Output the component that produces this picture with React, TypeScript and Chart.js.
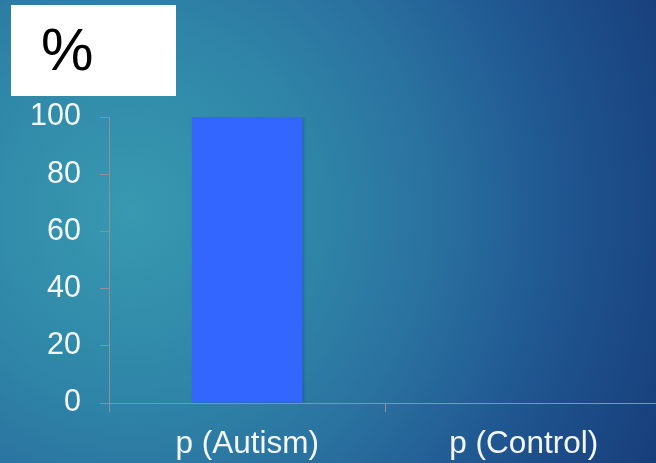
import React, { useEffect, useRef } from "react";
import { Chart, registerables } from "chart.js";

Chart.register(...registerables);

const categories: string[] = ["p (Autism)", "p (Control)"];
const percentValues: number[] = [100, 0];
const yTicks: number[] = [0, 20, 40, 60, 80, 100];
const unitLabel = "%";

const FONT = "'Liberation Sans', Arial, sans-serif";
const AXIS_COLOR = "rgba(140,146,152,1)";

const shadowPlugin = {
  id: "barShadow",
  beforeDatasetsDraw(chart: any) {
    const ctx = chart.ctx;
    ctx.save();
    ctx.shadowColor = "rgba(0,0,0,0.25)";
    ctx.shadowBlur = 3;
    ctx.shadowOffsetX = 1.5;
    ctx.shadowOffsetY = 0;
  },
  afterDatasetsDraw(chart: any) {
    chart.ctx.restore();
  },
};

export default function App() {
  const ref = useRef<HTMLCanvasElement | null>(null);

  useEffect(() => {
    document.body.style.margin = "0";
    const canvas = ref.current;
    if (!canvas) return;
    const chart = new Chart(canvas, {
      type: "bar",
      data: {
        labels: categories,
        datasets: [
          {
            data: percentValues,
            backgroundColor: "#3366ff",
            borderWidth: 0,
            barPercentage: 0.4,
            categoryPercentage: 1,
          },
        ],
      },
      options: {
        responsive: false,
        animation: false,
        layout: { padding: { top: 117, left: 0, right: 0, bottom: 0 } },
        plugins: {
          legend: { display: false },
          tooltip: { enabled: false },
        },
        scales: {
          x: {
            offset: true,
            afterFit: (s: any) => {
              s.height = 60;
            },
            grid: {
              display: true,
              offset: true,
              drawOnChartArea: false,
              drawTicks: true,
              tickLength: 9,
              color: AXIS_COLOR,
            },
            border: { display: true, color: AXIS_COLOR },
            ticks: {
              color: "#f4f7fa",
              padding: 13,
              font: { family: FONT, size: 31.5 },
            },
          },
          y: {
            min: 0,
            max: 100,
            afterFit: (s: any) => {
              s.width = 109;
            },
            afterBuildTicks: (s: any) => {
              s.ticks = yTicks.map((v) => ({ value: v }));
            },
            grid: {
              display: true,
              drawOnChartArea: false,
              drawTicks: true,
              tickLength: 9,
              color: AXIS_COLOR,
            },
            border: { display: true, color: AXIS_COLOR },
            ticks: {
              color: "#f4f7fa",
              padding: 19,
              font: { family: FONT, size: 30.5 },
            },
          },
        },
      },
      plugins: [shadowPlugin],
    });
    return () => chart.destroy();
  }, []);

  return (
    <div
      style={{
        position: "fixed",
        left: 0,
        top: 0,
        width: 656,
        height: 463,
        overflow: "hidden",
        background:
          "radial-gradient(circle at 130px 210px, #3899b0 0px, #2f86a8 180px, #2a72a0 300px, #1f5590 440px, #163b77 600px)",
      }}
    >
      <canvas ref={ref} width={662} height={463} style={{ display: "block" }} />
      <div
        style={{
          position: "absolute",
          left: 11,
          top: 5,
          width: 165,
          height: 91,
          background: "#ffffff",
        }}
      >
        <span
          style={{
            position: "absolute",
            left: 30,
            top: 16,
            fontFamily: FONT,
            fontSize: 59,
            lineHeight: "59px",
            color: "#000000",
          }}
        >
          {unitLabel}
        </span>
      </div>
    </div>
  );
}
